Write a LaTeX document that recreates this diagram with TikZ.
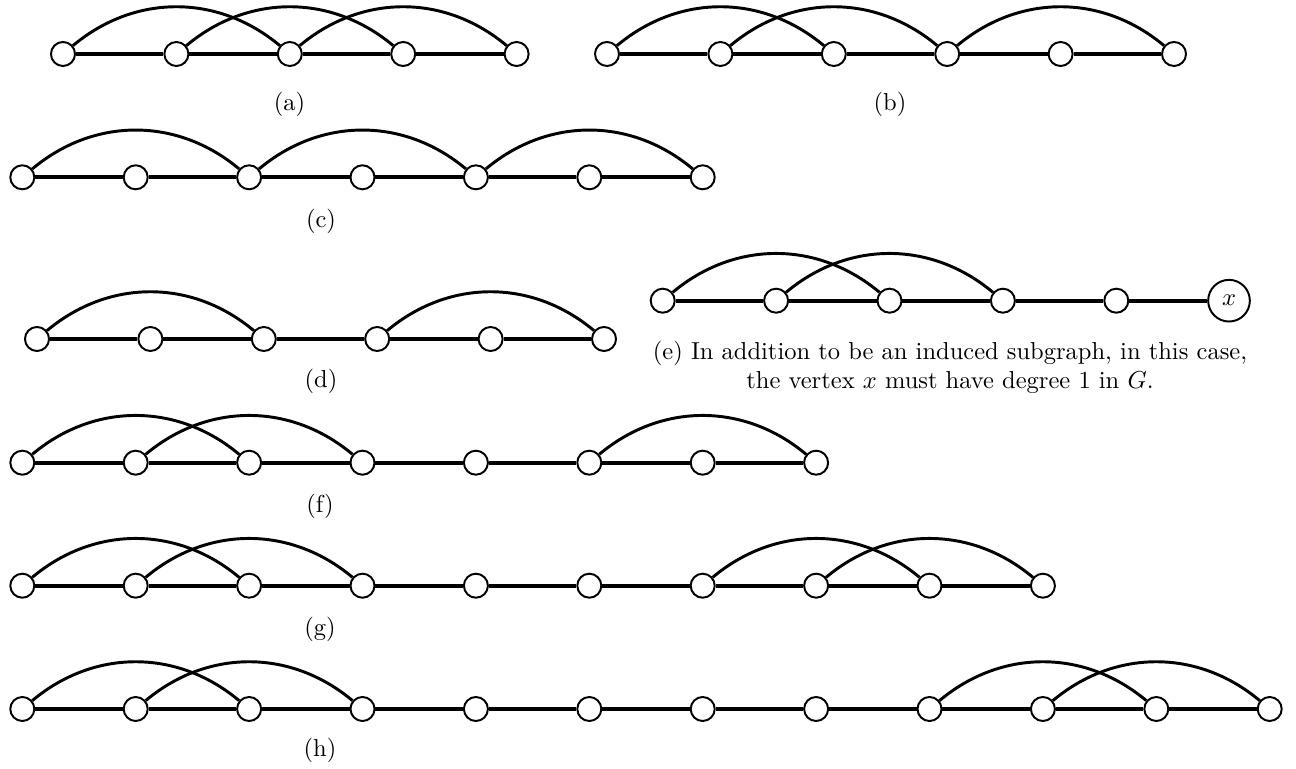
\documentclass[tikz,border=0pt]{standalone}
\begin{document}
\begin{tikzpicture}[
x=.408pt, y=-.408pt,
vertex/.style={circle, draw, line width=.8pt, fill=white, minimum size=9.8pt, inner sep=0pt},
bigvertex/.style={circle, draw, line width=.8pt, fill=white, minimum size=17pt, inner sep=0pt},
rail/.style={line width=1.6pt},
hop/.style={line width=1.2pt, bend left=40},
caption/.style={align=center, inner sep=0pt}
]

%% Box
\useasboundingbox (0,0) rectangle (1296,769);

\def\s{113.4}	% distance of vertices

%% (a)
\foreach \i in {1,...,5}
  \node[vertex] (a\i) at ({63+(\i-1)*\s},54) {};
\foreach \u [count=\v from 2] in {1,...,4}
  \draw[rail] (a\u) -- (a\v);
\foreach \u/\v in {1/3,2/4,3/5}
  \draw[hop] (a\u) to (a\v);
\node[caption] (la) at (289.5,104) {(a)};

%% (b)
\foreach \i in {1,...,6}
  \node[vertex] (b\i) at ({607+(\i-1)*\s},54) {};
\foreach \u [count=\v from 2] in {1,...,5}
  \draw[rail] (b\u) -- (b\v);
\foreach \u/\v in {1/3,2/4,4/6}
  \draw[hop] (b\u) to (b\v);
\node[caption] (lb) at (890,104) {(b)};

%% (c)
\foreach \i in {1,...,7}
  \node[vertex] (c\i) at ({22.3+(\i-1)*\s},177.3) {};
\foreach \u [count=\v from 2] in {1,...,6}
  \draw[rail] (c\u) -- (c\v);
\foreach \u/\v in {1/3,3/5,5/7}
  \draw[hop] (c\u) to (c\v);
\node[caption] (lc) at (321,221.7) {(c)};

%% (d)
\foreach \i in {1,...,6}
  \node[vertex] (d\i) at ({37+(\i-1)*\s},339) {};
\foreach \u [count=\v from 2] in {1,...,5}
  \draw[rail] (d\u) -- (d\v);
\foreach \u/\v in {1/3,4/6}
  \draw[hop] (d\u) to (d\v);
\node[caption] (ld) at (321,381.7) {(d)};

%% (e)
\foreach \i in {1,...,5}
  \node[vertex] (e\i) at ({662.7+(\i-1)*\s},300.7) {};
\node[bigvertex] (e6) at (1229,300.7) {$x$};
\foreach \u [count=\v from 2] in {1,...,5}
  \draw[rail] (e\u) -- (e\v);
\foreach \u/\v in {1/3,2/4}
  \draw[hop] (e\u) to (e\v);
\node[caption] (le) at (950,367.5) {(e) In addition to be an induced subgraph, in this case,\\
  the vertex $x$ must have degree 1 in $G$.};

%% (f)
\foreach \i in {1,...,8}
  \node[vertex] (f\i) at ({22.3+(\i-1)*\s},462.7) {};
\foreach \u [count=\v from 2] in {1,...,7}
  \draw[rail] (f\u) -- (f\v);
\foreach \u/\v in {1/3,2/4,6/8}
  \draw[hop] (f\u) to (f\v);
\node[caption] (lf) at (320,506.7) {(f)};

%% (g)
\foreach \i in {1,...,10}
  \node[vertex] (g\i) at ({22.3+(\i-1)*\s},585.7) {};
\foreach \u [count=\v from 2] in {1,...,9}
  \draw[rail] (g\u) -- (g\v);
\foreach \u/\v in {1/3,2/4,7/9,8/10}
  \draw[hop] (g\u) to (g\v);
\node[caption] (lg) at (320,629) {(g)};

%% (h)
\foreach \i in {1,...,12}
  \node[vertex] (h\i) at ({22.3+(\i-1)*\s},709) {};
\foreach \u [count=\v from 2] in {1,...,11}
  \draw[rail] (h\u) -- (h\v);
\foreach \u/\v in {1/3,2/4,9/11,10/12}
  \draw[hop] (h\u) to (h\v);
\node[caption] (lh) at (320,750) {(h)};

\end{tikzpicture}
\end{document}
